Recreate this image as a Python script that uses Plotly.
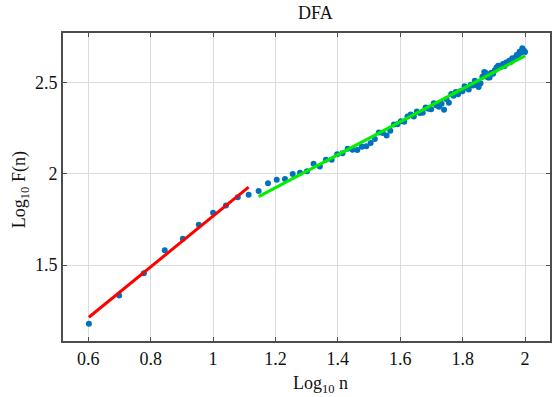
import numpy as np
import plotly.graph_objects as go

# window sizes n and fluctuation values log10 F(n)
n_values = list(range(4, 101))
logF = [
    1.179, 1.334, 1.456, 1.582, 1.644, 1.721, 1.786, 1.826, 1.872, 1.885,
    1.906, 1.948, 1.967, 1.971, 1.998, 2.005, 2.014, 2.055, 2.040, 2.077,
    2.077, 2.106,
    2.112, 2.137, 2.131, 2.130, 2.148, 2.151, 2.168, 2.190, 2.225, 2.223,
    2.209, 2.235, 2.270, 2.271, 2.287, 2.285, 2.313, 2.324, 2.313, 2.341,
    2.332, 2.334, 2.362, 2.355, 2.353, 2.385, 2.373, 2.366, 2.383, 2.350,
    2.407, 2.389, 2.436, 2.427, 2.447, 2.435, 2.452, 2.451, 2.479, 2.470,
    2.461, 2.487, 2.483, 2.509, 2.484, 2.475, 2.495, 2.531, 2.556, 2.551,
    2.526, 2.527, 2.552, 2.547, 2.566, 2.581, 2.591, 2.591, 2.586, 2.600,
    2.590, 2.609, 2.609, 2.618, 2.612, 2.632, 2.626, 2.635, 2.649, 2.649,
    2.668, 2.662, 2.686, 2.675, 2.666,
]

# fitted segments (endpoints)
red_x = [0.602, 1.114]
red_y = [1.215, 1.927]
green_x = [1.146, 2.0]
green_y = [1.875, 2.645]

x_ticks = [0.6, 0.8, 1.0, 1.2, 1.4, 1.6, 1.8, 2.0]
x_tick_text = ["0.6", "0.8", "1", "1.2", "1.4", "1.6", "1.8", "2"]
y_ticks = [1.5, 2.0, 2.5]
y_tick_text = ["1.5", "2", "2.5"]

logn = np.log10(np.array(n_values, dtype=float))

FONT = "Liberation Serif, Times New Roman, serif"
FS = 18

fig = go.Figure()
fig.add_trace(go.Scatter(
    x=logn, y=logF, mode="markers",
    marker=dict(color="#0072BD", size=6, line=dict(width=0)),
    showlegend=False,
))
fig.add_trace(go.Scatter(
    x=red_x, y=red_y, mode="lines",
    line=dict(color="#FF0000", width=3), showlegend=False,
))
fig.add_trace(go.Scatter(
    x=green_x, y=green_y, mode="lines",
    line=dict(color="#00F000", width=3), showlegend=False,
))

axis_common = dict(
    showgrid=True, gridcolor="#dcdcdc", gridwidth=1,
    showline=True, linecolor="#4d4d4d", linewidth=2, mirror="ticks",
    ticks="inside", ticklen=4, tickcolor="#4d4d4d", tickwidth=1,
    zeroline=False,
    tickfont=dict(family=FONT, size=FS, color="#111"),
)

W = 553 - 63 - 1
H = 397 - 33 - 56

fig.update_layout(
    width=553, height=397,
    margin=dict(l=63, r=1, t=33, b=56),
    plot_bgcolor="white", paper_bgcolor="white",
    xaxis=dict(range=[0.519, 2.08], tickvals=x_ticks, ticktext=x_tick_text,
               **axis_common),
    yaxis=dict(range=[1.085, 2.77], tickvals=y_ticks, ticktext=y_tick_text,
               **axis_common),
    annotations=[
        dict(text="DFA", x=(316.7 - 63) / W, y=1 + (33 - 13) / H,
             xref="paper", yref="paper", xanchor="center", yanchor="middle",
             showarrow=False, font=dict(family=FONT, size=FS, color="#111")),
        dict(text="Log<sub>10</sub> n", x=(321.7 - 63) / W, y=-(384 - 341) / H,
             xref="paper", yref="paper", xanchor="center", yanchor="middle",
             showarrow=False, font=dict(family=FONT, size=FS, color="#111")),
        dict(text="Log<sub>10</sub> F(n)", x=-(63 - 20) / W, y=(341 - 190) / H,
             xref="paper", yref="paper", xanchor="center", yanchor="middle",
             showarrow=False, textangle=-90,
             font=dict(family=FONT, size=FS, color="#111")),
    ],
)

fig.write_html("out.html")
